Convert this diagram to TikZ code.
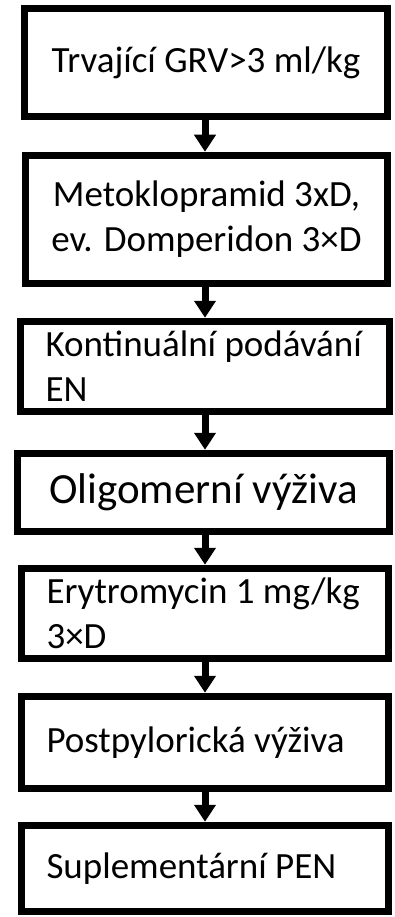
\documentclass[tikz,border=0pt]{standalone}
\usepackage{fontspec}
\setmainfont{Carlito}
\usetikzlibrary{arrows.meta}
\tikzset{
  stepbox/.style={draw=black, line width=7.5pt, fill=white, rectangle, inner sep=0pt,
    font=\fontsize{37}{45}\selectfont},
  leftbox/.style={stepbox, align=flush left, inner xsep=25pt},
  arr/.style={line width=7pt, -{Triangle[width=21pt,length=17pt]}}
}
\begin{document}
\begin{tikzpicture}[x=1pt,y=-1pt]
\useasboundingbox (0,0) rectangle (395,917);
\node[stepbox, minimum width=363pt, minimum height=108pt, align=center] (b1) at (206,62.5) {Trvající GRV>3 ml/kg};
\node[stepbox, minimum width=362pt, minimum height=128pt, align=center] (b2) at (206.5,219.5) {Metoklopramid 3xD,\\ev. Domperidon 3×D};
\node[leftbox, text width=319pt, minimum height=90pt] (b3) at (205,366.5) {\mbox{Kontinuální podávání}\\EN};
\node[stepbox, minimum width=372pt, minimum height=78pt, align=center, font=\fontsize{43}{52}\selectfont] (b4) at (203.5,492.5) {Oligomerní výživa};
\node[leftbox, text width=317pt, minimum height=90pt] (b5) at (205,613.5) {\mbox{Erytromycin 1 mg/kg}\\3×D};
\node[leftbox, text width=317pt, minimum height=92pt] (b6) at (205,742.5) {\mbox{Postpylorická výživa}};
\node[leftbox, text width=317pt, minimum height=86pt] (b7) at (205,868.5) {\mbox{Suplementární PEN}};
\foreach \a/\b in {b1/b2,b2/b3,b3/b4,b4/b5,b5/b6,b6/b7}
  \draw[arr] (\a.south -| 205,0) -- (\b.north -| 205,0);
\end{tikzpicture}
\end{document}
